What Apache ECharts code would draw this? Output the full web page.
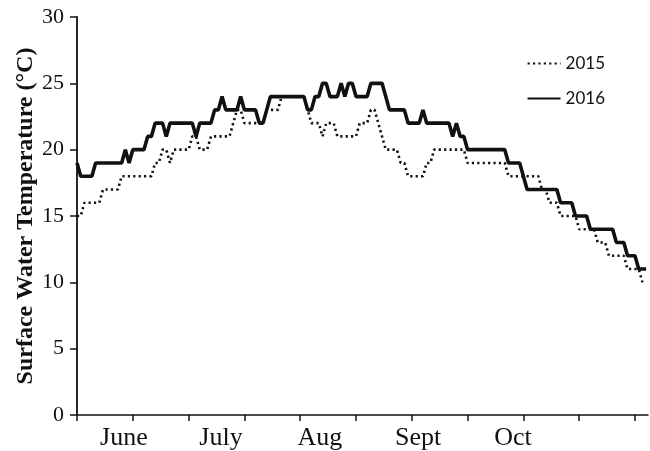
<!DOCTYPE html>
<html>
<head>
<meta charset="utf-8">
<script src="https://cdn.jsdelivr.net/npm/echarts@6/dist/echarts.min.js"></script>
<style>
  html, body { margin: 0; padding: 0; background: #fff; }
  #chart { width: 650px; height: 451px; }
</style>
</head>
<body>
<div id="chart"></div>
<script>
// Daily surface water temperature (°C), day 0 = 1 June
const temp2015 = [
  15,15,16,16,16,16,16,17,17,17,17,17,18,18,18,18,18,18,18,18,18,19,19,20,20,19,20,20,20,20,20,21,21,20,20,20,
  21,21,21,21,21,21,22,23,23,22,22,22,22,22,22,23,23,23,23,24,24,24,24,24,24,24,23,22,22,22,21,22,22,22,
  21,21,21,21,21,21,22,22,22,23,23,22,21,20,20,20,20,19,19,18,18,18,18,18,19,19,20,20,20,20,20,20,20,20,20,
  19,19,19,19,19,19,19,19,19,19,19,18,18,18,18,18,18,18,18,18,17,17,16,16,16,15,15,15,15,15,14,14,14,14,14,
  13,13,13,12,12,12,12,12,11,11,11,11,10
];
const temp2016 = [
  19,18,18,18,18,19,19,19,19,19,19,19,19,20,19,20,20,20,20,21,21,22,22,22,21,22,22,22,22,22,22,22,21,22,22,22,22,
  23,23,24,23,23,23,23,24,23,23,23,23,22,22,23,24,24,24,24,24,24,24,24,24,24,23,23,24,24,25,25,24,24,24,25,24,
  25,25,24,24,24,24,25,25,25,25,24,23,23,23,23,23,22,22,22,22,23,22,22,22,22,22,22,22,21,22,21,21,
  20,20,20,20,20,20,20,20,20,20,20,19,19,19,19,18,17,17,17,17,17,17,17,17,17,16,16,16,16,15,15,15,15,
  14,14,14,14,14,14,14,13,13,13,12,12,12,11,11,11
];
const seriesNames = ['2015', '2016'];
const monthLabels = ['June', 'July', 'Aug', 'Sept', 'Oct'];
const monthLabelDays = [12.6, 38.7, 65.3, 91.7, 117.2];
const xTickDays = [0, 15, 30, 45, 60, 75, 90, 105, 120, 135, 150];

const chart = echarts.init(document.getElementById('chart'), null, { renderer: 'canvas' });

const toPairs = arr => arr.map((v, i) => [i, v]);

chart.setOption({
  backgroundColor: '#ffffff',
  animation: false,
  grid: { left: 77, right: 2, top: 17, bottom: 36 },
  legend: {
    orient: 'vertical',
    right: 40,
    top: 50,
    itemWidth: 33,
    itemHeight: 14,
    itemGap: 18,
    data: seriesNames,
    itemStyle: { opacity: 0 },
    textStyle: { fontFamily: 'Lato', fontSize: 17, color: '#111' }
  },
  xAxis: {
    type: 'value',
    min: 0,
    max: 153.5,
    axisLine: { show: true, lineStyle: { color: '#111', width: 1.5 } },
    axisTick: {
      show: true, inside: false, length: 6,
      customValues: xTickDays,
      lineStyle: { color: '#111', width: 1.5 }
    },
    axisLabel: {
      show: true,
      customValues: monthLabelDays,
      formatter: v => {
        const i = monthLabelDays.findIndex(d => Math.abs(d - v) < 0.01);
        return i >= 0 ? monthLabels[i] : '';
      },
      margin: 10,
      fontFamily: 'Liberation Serif',
      fontSize: 26,
      color: '#111'
    },
    splitLine: { show: false }
  },
  yAxis: {
    type: 'value',
    min: 0,
    max: 30,
    interval: 5,
    name: 'Surface Water Temperature (\u00B0C)',
    nameLocation: 'middle',
    nameGap: 39,
    nameMoveOverlap: false,
    nameTextStyle: {
      fontFamily: 'Liberation Serif',
      fontWeight: 'bold',
      fontSize: 24,
      color: '#111'
    },
    axisLine: { show: true, lineStyle: { color: '#111', width: 1.8 } },
    axisTick: { show: true, inside: false, length: 7, lineStyle: { color: '#111', width: 1.5 } },
    axisLabel: {
      margin: 13,
      fontFamily: 'Liberation Serif',
      fontSize: 22,
      color: '#111'
    },
    splitLine: { show: false }
  },
  series: [
    {
      name: seriesNames[0],
      type: 'line',
      data: toPairs(temp2015),
      symbol: 'none',
      lineStyle: { color: '#111', width: 2.6, type: [2.2, 3.2], cap: 'butt' },
      itemStyle: { color: '#111' },
      z: 2
    },
    {
      name: seriesNames[1],
      type: 'line',
      data: toPairs(temp2016),
      symbol: 'none',
      lineStyle: { color: '#111', width: 3.6, type: 'solid' },
      itemStyle: { color: '#111' },
      z: 3
    }
  ]
});
</script>
</body>
</html>
